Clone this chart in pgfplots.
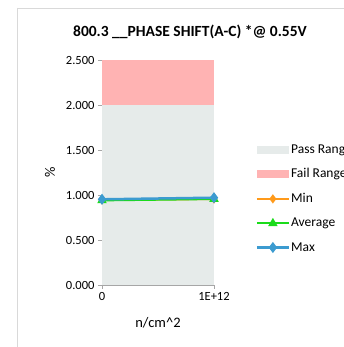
\documentclass[border=0pt]{standalone}
\usepackage{pgfplots}
\pgfplotsset{compat=1.18}
\usepackage{fontspec}
\setmainfont{Carlito}
\definecolor{passc}{HTML}{E6EBEA}
\definecolor{failc}{HTML}{FFB3B3}
\definecolor{minc}{HTML}{FF9A1A}
\definecolor{avgc}{HTML}{1ADB1A}
\definecolor{maxc}{HTML}{3C9BD0}
\definecolor{axc}{HTML}{A6A6A6}
\begin{document}
\begin{tikzpicture}
\useasboundingbox (0pt,0pt) rectangle (343pt,347pt);
\draw[color=black!15, line width=0.8pt] (17pt,339pt) -- (17pt,-20pt);
\draw[color=black!15, line width=0.8pt] (17pt,339pt) -- (400pt,339pt);
\node[font=\fontsize{15.5}{17}\selectfont\bfseries] at (190pt,315pt) {800.3 \_\_PHASE SHIFT(A-C) *@ 0.55V};
\begin{axis}[
  at={(102pt,62pt)}, anchor=origin,
  scale only axis, width=112pt, height=225pt,
  xmin=0, xmax=1, ymin=0, ymax=2.5,
  axis lines*=left, axis line style={axc, line width=0.8pt},
  xtick={0,1}, xticklabels={0,1E+12},
  ytick={0,0.5,1,1.5,2,2.5},
  yticklabel style={/pgf/number format/.cd, fixed, fixed zerofill, precision=3},
  /pgf/number format/assume math mode=true,
  tick style={axc, line width=0.6pt}, tick align=outside, major tick length=4pt,
  ticklabel style={font=\fontsize{12.5}{14}\selectfont},
  xlabel={n/cm\^{}2}, ylabel={\%},
  label style={font=\fontsize{14.5}{16}\selectfont},
  xlabel style={yshift=-10pt}, ylabel style={yshift=4pt},
  clip=false,
  legend cell align=left,
  legend style={at={(1.37,0.63)}, anchor=north west, draw=none, fill=none,
    font=\fontsize{13.5}{15}\selectfont, row sep=12pt, inner sep=0pt,
    nodes={inner sep=1pt}},
]
\addplot[fill=passc, draw=none, area legend,
  legend image code/.code={\fill[passc] (0pt,-4pt) rectangle (32pt,4pt);}]
  coordinates {(0,0) (0,2) (1,2) (1,0)} -- cycle;
\addlegendentry{Pass Range}
\addplot[fill=failc, draw=none, area legend,
  legend image code/.code={\fill[failc] (0pt,-4pt) rectangle (32pt,4pt);}]
  coordinates {(0,2) (0,2.5) (1,2.5) (1,2)} -- cycle;
\addlegendentry{Fail Range}
\pgfplotsset{every axis plot/.append style={
  legend image code/.code={\draw[mark repeat=2,mark phase=2] plot coordinates {(0pt,0pt)(16pt,0pt)(32pt,0pt)};}}}
\addplot[minc, line width=2pt, mark=diamond*, mark size=3pt] coordinates {(0,0.945) (1,0.955)};
\addlegendentry{Min}
\addplot[avgc, line width=2pt, mark=triangle*, mark size=3.5pt] coordinates {(0,0.94) (1,0.955)};
\addlegendentry{Average}
\addplot[maxc, line width=2.5pt, mark=diamond*, mark size=3.5pt] coordinates {(0,0.952) (1,0.97)};
\addlegendentry{Max}
\end{axis}
\end{tikzpicture}
\end{document}
